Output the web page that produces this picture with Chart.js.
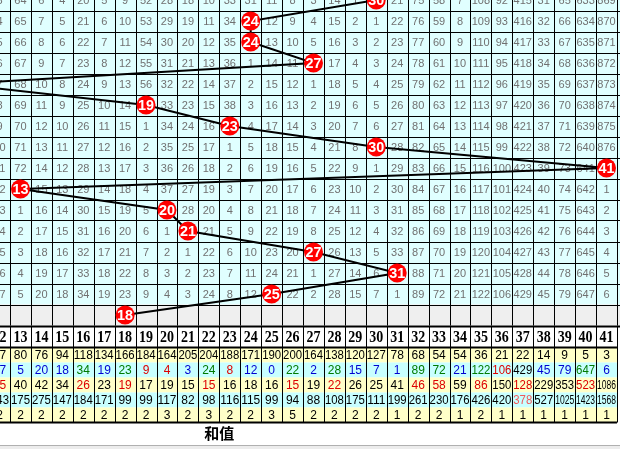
<!DOCTYPE html>
<html>
<head>
<meta charset="utf-8">
<script src="https://cdn.jsdelivr.net/npm/chart.js@4/dist/chart.umd.min.js"></script>
<style>
  body { margin: 0; background: #fff; }
  canvas { display: block; }
</style>
</head>
<body>
<canvas id="trend" width="620" height="449"></canvas>
<script>
// column numbers (sum values) shown in the table
const columnLabels = [12, 13, 14, 15, 16, 17, 18, 19, 20, 21, 22, 23, 24, 25, 26, 27, 28, 29, 30, 31, 32, 33, 34, 35, 36, 37, 38, 39, 40, 41];

// sum value of each draw, from the partial top row down to the last row
const firstRow = -1;
const hitColumns = [30, 24, 24, 27, 10, 19, 23, 30, 41, 13, 20, 21, 27, 31, 25];
const forecastColumn = 18;

// missing counts in the partial top row
const topRowMissing = [3, 64, 6, 4, 20, 5, 9, 52, 28, 18, 10, 33, 31, 11, 8, 3, 14, 1, 0, 21, 75, 58, 7, 108, 92, 415, 31, 65, 633, 869];

// statistics rows under the table
const statCount = [57, 80, 76, 94, 118, 134, 166, 184, 164, 205, 204, 188, 171, 190, 200, 164, 138, 120, 127, 78, 68, 54, 54, 36, 21, 22, 14, 9, 5, 3];
const statCurrent = [17, 5, 20, 18, 34, 19, 23, 9, 4, 3, 24, 8, 12, 0, 22, 2, 28, 15, 7, 1, 89, 72, 21, 122, 106, 429, 45, 79, 647, 6];
const statCurrentTone = ['b', 'b', 'b', 'b', 'g', 'b', 'g', 'r', 'r', 'b', 'g', 'r', 'b', 'b', 'g', 'b', 'g', 'b', 'b', 'b', 'g', 'g', 'b', 'g', 'r', 'k', 'b', 'b', 'g', 'b'];
const statMax = [45, 40, 42, 34, 26, 23, 19, 17, 19, 15, 15, 16, 18, 16, 15, 19, 22, 26, 25, 41, 46, 58, 59, 86, 150, 128, 229, 353, 523, 1086];
const statMaxTone = ['r', 'k', 'k', 'k', 'r', 'k', 'r', 'k', 'k', 'k', 'r', 'k', 'k', 'k', 'r', 'k', 'r', 'k', 'k', 'k', 'r', 'r', 'k', 'r', 'k', 'r', 'k', 'k', 'r', 'k'];
const statAvg = [243, 175, 275, 147, 184, 171, 99, 99, 117, 82, 98, 116, 115, 99, 94, 88, 108, 175, 111, 199, 261, 230, 176, 426, 420, 378, 527, 1025, 1423, 1568];
const statAvgTone = ['k', 'k', 'k', 'k', 'k', 'k', 'k', 'k', 'k', 'k', 'k', 'k', 'k', 'k', 'k', 'k', 'k', 'k', 'k', 'k', 'k', 'k', 'k', 'k', 'k', 'p', 'k', 'k', 'k', 'k'];
const statRepeat = [2, 2, 2, 2, 2, 2, 2, 2, 3, 2, 3, 2, 2, 3, 5, 2, 2, 2, 2, 1, 2, 2, 1, 2, 1, 1, 1, 1, 1, 1];
const footLabel = '和值';

const tones = { k: '#000000', b: '#0000d0', g: '#007a00', r: '#dd0000', p: '#f05a5a' };

// build the missing-count grid row by row
const missingGrid = [];
let current = topRowMissing.slice();
hitColumns.forEach((hit, i) => {
    if (i > 0) current = current.map((v, j) => columnLabels[j] === hit ? 0 : v + 1);
    missingGrid.push(current);
});

const points = hitColumns.map((c, i) => ({ x: c, y: firstRow + i + 0.5 }));
points.push({ x: forecastColumn, y: firstRow + hitColumns.length + 0.5 });

function fitText(ctx, text, x, y, maxW) {
    const w = ctx.measureText(text).width;
    if (w > maxW) {
        ctx.save();
        ctx.translate(x, y);
        ctx.scale(maxW / w, 1);
        ctx.fillText(text, 0, 0);
        ctx.restore();
    } else {
        ctx.fillText(text, x, y);
    }
}

const tablePlugin = {
    id: 'lotteryTable',
    beforeDatasetsDraw(chart) {
        const { ctx, chartArea, scales: { x, y } } = chart;
        const W = chart.width;
        const lastRow = firstRow + hitColumns.length; // forecast row
        ctx.save();

        // upper grid
        ctx.fillStyle = '#e0ffff';
        ctx.fillRect(0, 0, W, y.getPixelForValue(lastRow));
        ctx.fillStyle = '#efefef';
        ctx.fillRect(0, y.getPixelForValue(lastRow), W, chartArea.bottom - y.getPixelForValue(lastRow));

        ctx.strokeStyle = '#000';
        ctx.lineWidth = 1;
        ctx.beginPath();
        for (let r = firstRow + 1; r <= lastRow; r++) {
            const py = Math.round(y.getPixelForValue(r)) + 0.5;
            ctx.moveTo(0, py); ctx.lineTo(W, py);
        }
        for (let c = columnLabels[0] - 0.5; c <= columnLabels[columnLabels.length - 1] + 0.5; c++) {
            const px = Math.round(x.getPixelForValue(c)) + 0.5;
            ctx.moveTo(px, 0); ctx.lineTo(px, chartArea.bottom);
        }
        ctx.stroke();

        // missing counts
        ctx.font = '11px "Liberation Sans", Arial, sans-serif';
        ctx.textAlign = 'center';
        ctx.textBaseline = 'middle';
        ctx.fillStyle = '#707070';
        missingGrid.forEach((row, i) => {
            const r = firstRow + i;
            const py = y.getPixelForValue(r + 0.5) + 1;
            row.forEach((v, j) => {
                if (columnLabels[j] === hitColumns[i]) return;
                fitText(ctx, String(v), x.getPixelForValue(columnLabels[j]), py, 19);
            });
        });

        // header and statistics
        const headTop = chartArea.bottom;
        const headH = 22, statH = 15;
        const rightEdge = x.getPixelForValue(columnLabels[columnLabels.length - 1] + 0.5);
        ctx.fillStyle = '#ffffff';
        ctx.fillRect(0, headTop, W, chart.height - headTop);

        const statRows = [
            { vals: statCount, bg: '#ffffc8' },
            { vals: statCurrent, tone: statCurrentTone, bg: '#c8ffff' },
            { vals: statMax, tone: statMaxTone, bg: '#ffffc8' },
            { vals: statAvg, tone: statAvgTone, bg: '#c8ffff' },
            { vals: statRepeat, bg: '#ffffc8' }
        ];
        statRows.forEach((s, k) => {
            ctx.fillStyle = s.bg;
            ctx.fillRect(0, headTop + headH + k * statH, rightEdge, statH);
        });
        const tableBottom = headTop + headH + statRows.length * statH;

        ctx.strokeStyle = '#000';
        ctx.lineWidth = 1;
        ctx.beginPath();
        columnLabels.forEach(c => {
            const px = Math.round(x.getPixelForValue(c + 0.5)) + 0.5;
            ctx.moveTo(px, headTop); ctx.lineTo(px, tableBottom);
        });
        ctx.stroke();
        ctx.lineWidth = 2;
        ctx.beginPath();
        ctx.moveTo(0, headTop + 1); ctx.lineTo(W, headTop + 1);
        ctx.moveTo(0, headTop + headH); ctx.lineTo(rightEdge, headTop + headH);
        ctx.moveTo(0, tableBottom); ctx.lineTo(rightEdge, tableBottom);
        ctx.stroke();

        ctx.fillStyle = '#000';
        ctx.font = 'bold 16px "Liberation Serif", serif';
        columnLabels.forEach(c => {
            fitText(ctx, String(c), x.getPixelForValue(c), headTop + headH / 2 + 1, 14);
        });

        ctx.font = '12px "Liberation Sans", Arial, sans-serif';
        statRows.forEach((s, k) => {
            const py = headTop + headH + k * statH + statH / 2 + 1;
            s.vals.forEach((v, j) => {
                ctx.fillStyle = tones[s.tone ? s.tone[j] : 'k'];
                fitText(ctx, String(v), x.getPixelForValue(columnLabels[j]), py, 19);
            });
        });

        // footer label
        ctx.fillStyle = '#000';
        ctx.font = 'bold 15px "Noto Sans CJK SC", sans-serif';
        ctx.fillText(footLabel, x.getPixelForValue(22.5), tableBottom + 11);

        // window strip at the very bottom
        ctx.fillStyle = '#ececec';
        ctx.fillRect(0, chart.height - 3, W, 3);
        ctx.fillStyle = '#b0b0b0';
        ctx.fillRect(0, chart.height - 4, W, 1);
        ctx.restore();
    },
    afterDatasetsDraw(chart) {
        const { ctx } = chart;
        const meta = chart.getDatasetMeta(0);
        ctx.save();
        ctx.fillStyle = '#ffffff';
        ctx.font = 'bold 15px "Liberation Sans", Arial, sans-serif';
        ctx.textAlign = 'center';
        ctx.textBaseline = 'middle';
        meta.data.forEach((pt, i) => {
            fitText(ctx, String(points[i].x), pt.x, pt.y + 1, 16);
        });
        ctx.restore();
    }
};

new Chart(document.getElementById('trend').getContext('2d'), {
    type: 'line',
    data: {
        datasets: [{
            data: points,
            borderColor: '#000000',
            borderWidth: 2,
            pointRadius: 9.5,
            pointHoverRadius: 9.5,
            pointBackgroundColor: '#ff0000',
            pointBorderColor: '#ff0000',
            pointBorderWidth: 0,
            tension: 0
        }]
    },
    options: {
        responsive: false,
        animation: false,
        events: [],
        layout: { autoPadding: false, padding: { top: 0, left: 0, right: 0, bottom: 123.5 } },
        scales: {
            x: { type: 'linear', min: 12.022, max: 41.645, display: false },
            y: { min: -0.5, max: 15, reverse: true, display: false }
        },
        plugins: {
            legend: { display: false },
            tooltip: { enabled: false }
        }
    },
    plugins: [tablePlugin]
});
</script>
</body>
</html>
